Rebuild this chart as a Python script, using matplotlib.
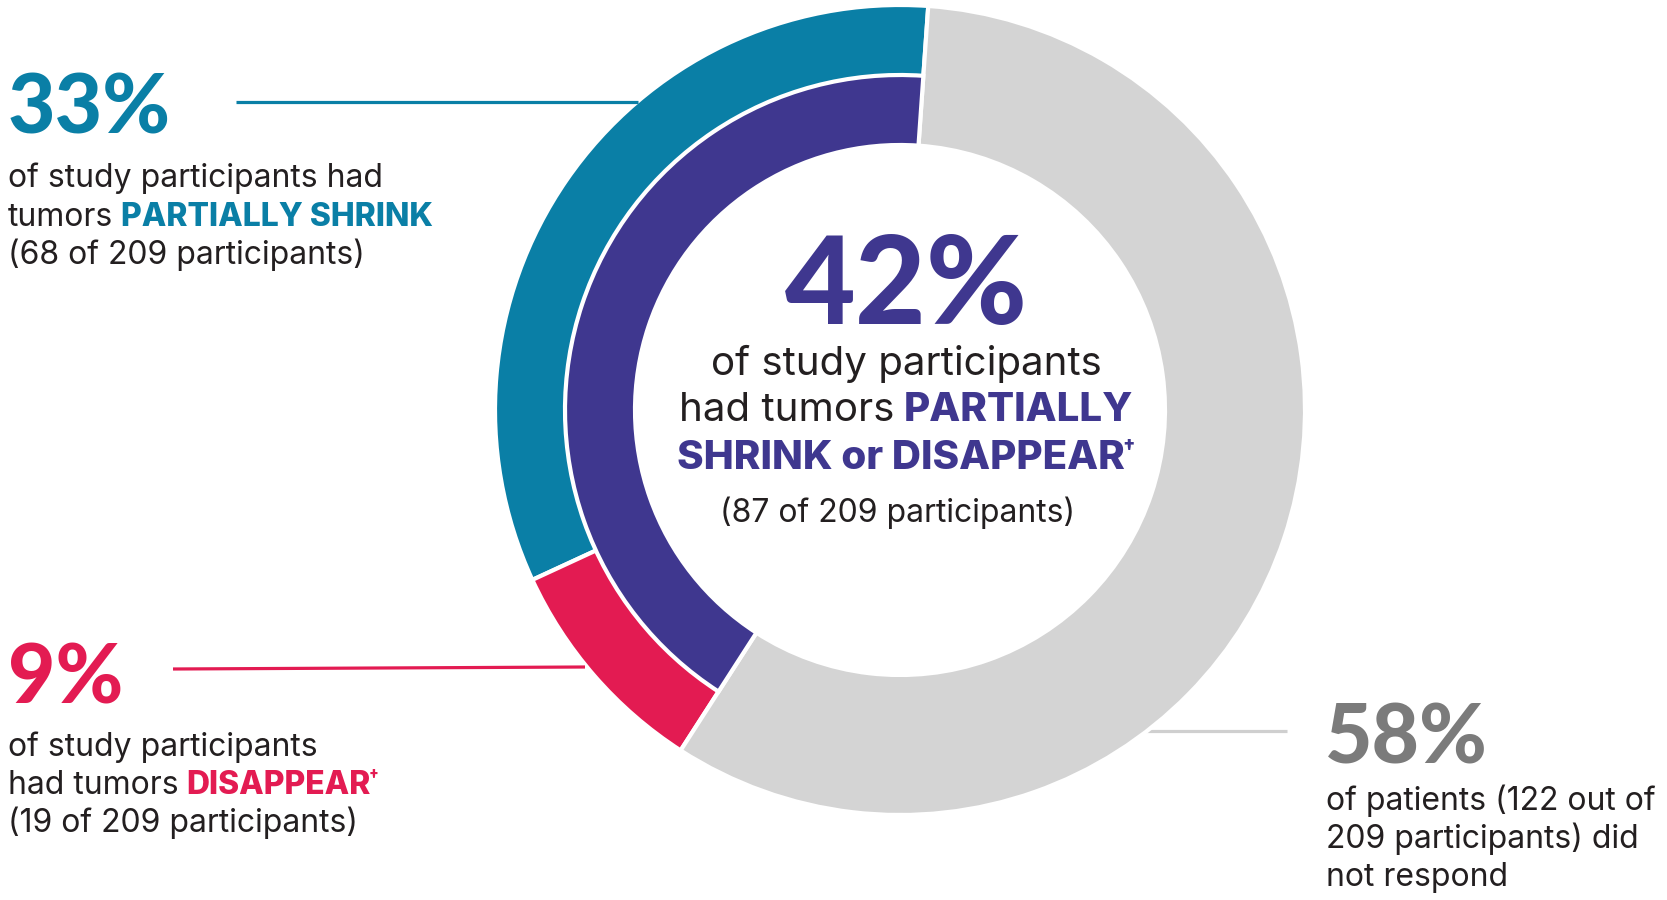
import matplotlib
matplotlib.use("Agg")
import matplotlib.pyplot as plt

W, H = 1667, 900

# outer ring: partially shrink, disappear, no response (percent)
outer_labels = ["Partially shrink", "Disappear", "Did not respond"]
outer_values = [33, 9, 58]
# inner ring: any response vs. none
inner_values = [42, 58]

TEAL = "#0a7fa6"
RED = "#e31b52"
PURPLE = "#3f378f"
GRAY = "#d4d4d4"
DARKGRAY = "#7b7b7b"
INK = "#231f20"

HEAD = "Lato"
BODY = "Inter"

fig = plt.figure(figsize=(W / 100, H / 100), dpi=100)
ax = fig.add_axes([0, 0, 1, 1])


def Y(y):
    return H - y


cx, cy = 900, 410
r_out, r_mid, r_in = 405, 335, 265

ax.pie(outer_values, colors=[TEAL, RED, GRAY], startangle=86, counterclock=True,
       radius=r_out, center=(cx, Y(cy)), frame=True,
       wedgeprops=dict(width=r_out - r_in, edgecolor="white", linewidth=3))
inner, _ = ax.pie(inner_values, colors=[PURPLE, GRAY], startangle=86, counterclock=True,
                  radius=r_mid, center=(cx, Y(cy)), frame=True,
                  wedgeprops=dict(width=r_mid - r_in, edgecolor="white", linewidth=3))
inner[1].set_visible(False)
ax.set_xlim(0, W)
ax.set_ylim(0, H)
ax.set_aspect("equal")
ax.axis("off")

# leader lines
ax.plot([236, 638], [Y(102), Y(102)], color=TEAL, lw=2.3, solid_capstyle="butt")
ax.plot([173, 585], [Y(669), Y(667)], color=RED, lw=2.3, solid_capstyle="butt")
ax.plot([1050, 1287], [Y(731), Y(731)], color="#cfcfcf", lw=2.3, solid_capstyle="butt", zorder=0.5)

renderer = fig.canvas.get_renderer()


def rich_line(x, y, pieces, size, ha="left"):
    cur = x
    arts = []
    for s, color, weight, scale, rise, gap in pieces:
        t = ax.text(cur, Y(y) + rise, s, fontsize=size * scale, color=color,
                    fontweight=weight, family=[BODY, "DejaVu Sans"],
                    ha="left", va="baseline")
        bb = t.get_window_extent(renderer)
        cur += bb.width + gap
        arts.append(t)
    if ha == "center":
        total = cur - x - pieces[-1][5]
        for t in arts:
            px, py = t.get_position()
            t.set_position((px - total / 2, py))
    return arts


def big(x, y, s, color, size, ha="left"):
    ax.text(x, Y(y), s, fontsize=size, color=color, fontweight="black",
            family=[HEAD, "DejaVu Sans"], ha=ha, va="baseline")


LS = 23   # side text size
CS = 29   # centre text size

# 33 %
big(8, 133, "33%", TEAL, 59)
rich_line(8, 187, [("of study participants had", INK, "normal", 1, 0, 0)], LS)
rich_line(8, 226, [("tumors", INK, "normal", 1, 0, 8),
                   ("PARTIALLY SHRINK", TEAL, "heavy", 1, 0, 0)], LS)
rich_line(8, 264, [("(68 of 209 participants)", INK, "normal", 1, 0, 0)], LS)

# 9 %
big(8, 704, "9%", RED, 59)
rich_line(8, 756, [("of study participants", INK, "normal", 1, 0, 0)], LS)
rich_line(8, 794, [("had tumors", INK, "normal", 1, 0, 8),
                   ("DISAPPEAR", RED, "heavy", 1, 0, -2),
                   ("\u2020", RED, "heavy", 0.5, 13, 0)], LS)
rich_line(8, 832, [("(19 of 209 participants)", INK, "normal", 1, 0, 0)], LS)

# 58 %
big(1325, 763, "58%", DARKGRAY, 59)
rich_line(1326, 810, [("of patients (122 out of", INK, "normal", 1, 0, 0)], LS)
rich_line(1326, 848, [("209 participants) did", INK, "normal", 1, 0, 0)], LS)
rich_line(1326, 886, [("not respond", INK, "normal", 1, 0, 0)], LS)

# centre
big(906, 324, "42%", PURPLE, 88, ha="center")
rich_line(906, 375, [("of study participants", INK, "normal", 1, 0, 0)], CS, ha="center")
rich_line(906, 421, [("had tumors", INK, "normal", 1, 0, 10),
                     ("PARTIALLY", PURPLE, "heavy", 1, 0, 0)], CS, ha="center")
rich_line(906, 469, [("SHRINK or DISAPPEAR", PURPLE, "heavy", 1, 0, -2),
                     ("\u2020", PURPLE, "heavy", 0.5, 16, 0)], CS, ha="center")
rich_line(898, 522, [("(87 of 209 participants)", INK, "normal", 1, 0, 0)], 23, ha="center")

fig.savefig("out.png", dpi=100, facecolor="white")
